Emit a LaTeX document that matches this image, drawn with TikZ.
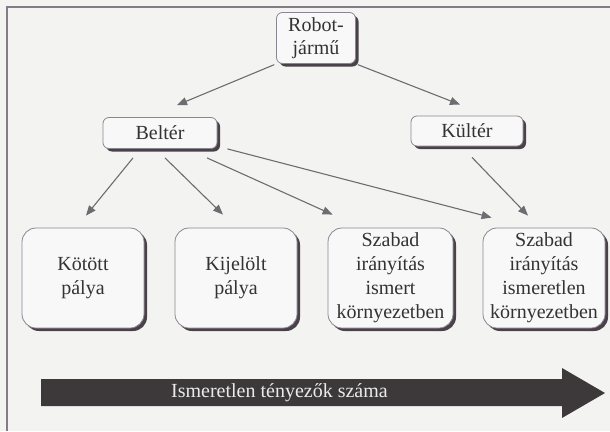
\documentclass[tikz,border=0pt]{standalone}
\usepackage{fontspec}
\setmainfont{Liberation Serif}
\usetikzlibrary{arrows.meta,shadows}
\definecolor{bgc}{HTML}{F3F4F2}
\definecolor{boxfill}{HTML}{F8F8F8}
\definecolor{boxline}{HTML}{8A8590}
\definecolor{shadowc}{HTML}{4A4248}
\definecolor{connc}{HTML}{6E6C70}
\definecolor{framec}{HTML}{837B85}
\definecolor{arrowc}{HTML}{3D393B}
\tikzset{
  box/.style={draw=boxline, line width=0.8pt, fill=boxfill, rounded corners=#1,
    general shadow={fill=shadowc, shadow xshift=3pt, shadow yshift=-3pt},
    align=center, inner sep=0pt, font=\fontsize{20}{24}\selectfont, text=black!80},
  box/.default=6pt,
  conn/.style={draw=connc, line width=1.1pt, -{Triangle[length=10pt,width=8pt]}},
}
\begin{document}
\begin{tikzpicture}[x=1pt,y=-1pt]
\fill[bgc] (0,0) rectangle (610,431);
\useasboundingbox (0,0) rectangle (610,431);
\draw[framec, line width=1.6pt] (7,431) -- (7,7) -- (610,7);

\node[box, minimum width=79pt, minimum height=51pt, font=\fontsize{20}{23}\selectfont] (robot) at (316,38) {Robot-\\jármű};
\node[box, minimum width=114pt, minimum height=31pt] (belter) at (160,133) {Beltér};
\node[box, minimum width=112pt, minimum height=30pt] (kulter) at (467,131) {Kültér};
\node[box=14pt, minimum width=122pt, minimum height=100pt] (kotott) at (83,278) {Kötött\\pálya};
\node[box=14pt, minimum width=122pt, minimum height=100pt] (kijelolt) at (236,278) {Kijelölt\\pálya};
\node[box=14pt, minimum width=125pt, minimum height=100pt] (ismert) at (390.5,278) {Szabad\\irányítás\\ismert\\környezetben};
\node[box=14pt, minimum width=122pt, minimum height=100pt] (ismeretlen) at (544,278) {Szabad\\irányítás\\ismeretlen\\környezetben};

\draw[conn, shorten <=2pt] (robot.south west) -- ([xshift=17pt,yshift=12pt]belter.north);
\draw[conn, shorten <=2pt] (robot.south east) -- ([xshift=-7pt,yshift=11pt]kulter.north);
\draw[conn] ([xshift=-27pt,yshift=-9pt]belter.south) -- ([xshift=3pt,yshift=12pt]kotott.north);
\draw[conn] ([xshift=5pt,yshift=-9pt]belter.south) -- ([xshift=-13pt,yshift=13pt]kijelolt.north);
\draw[conn] ([xshift=47pt,yshift=-9pt]belter.south) -- ([xshift=5pt,yshift=13pt]ismert.north west);
\draw[conn] ([xshift=10pt,yshift=0pt]belter.south east) -- ([xshift=9pt,yshift=10pt]ismeretlen.north west);
\draw[conn] ([xshift=5pt,yshift=-11pt]kulter.south) -- ([xshift=-16pt,yshift=12pt]ismeretlen.north);

\fill[arrowc] (41,379) -- (562,379) -- (562,368) -- (605,393) -- (562,418) -- (562,406) -- (41,406) -- cycle;
\node[text=white!92!black, font=\fontsize{20}{24}\selectfont, anchor=west, inner sep=0pt] (bartext) at (171,393) {Ismeretlen tényezők száma};
\end{tikzpicture}
\end{document}
